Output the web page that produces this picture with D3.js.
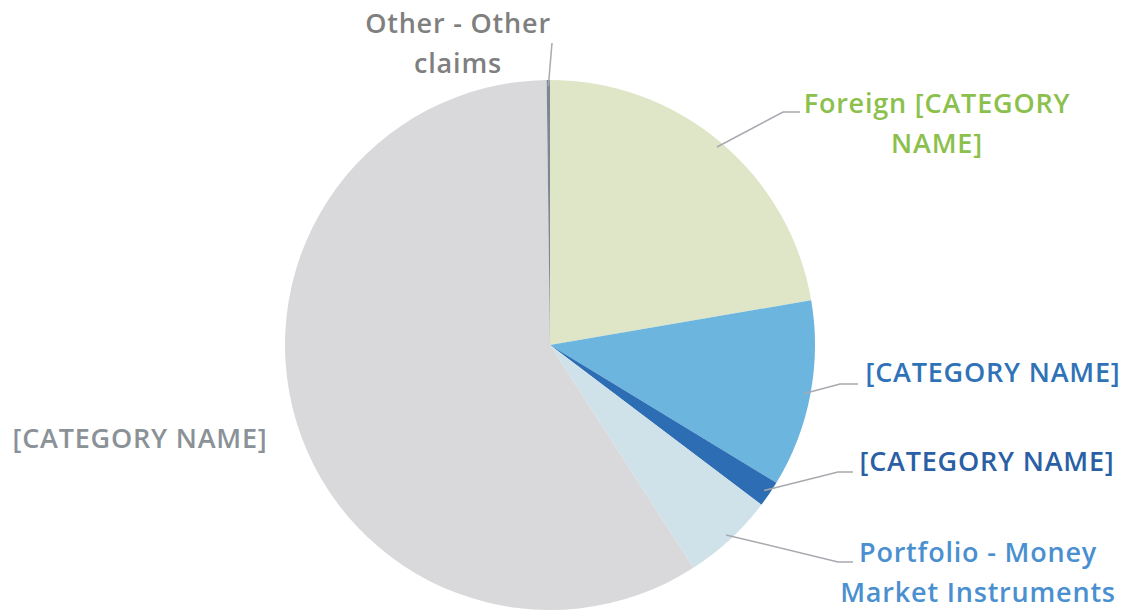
<!DOCTYPE html>
<html>
<head>
<script src="https://cdn.jsdelivr.net/npm/d3@7"></script>
<style>
  body { margin: 0; background: #fff; }
  text { font-family: "Open Sans", sans-serif; }
</style>
</head>
<body>
<script>
// slice data, clockwise from 12 o'clock
var categories = ["Foreign [CATEGORY NAME]", "[CATEGORY NAME]", "[CATEGORY NAME]",
                  "Portfolio - Money Market Instruments", "[CATEGORY NAME]", "Other - Other claims"];
var values = [22.3, 11.4, 1.6, 5.6, 58.9, 0.2];
var sliceColors = ["#dfe6c8", "#6cb5df", "#2d6db4", "#cfe2e9", "#d9d9dc", "#7d8792"];
var labelColors = ["#8cc04c", "#2f72b8", "#2a5fa5", "#4a90d0", "#8a9197", "#7f7f7f"];
var labelLines = [
  ["Foreign [CATEGORY", "NAME]"],
  ["[CATEGORY NAME]"],
  ["[CATEGORY NAME]"],
  ["Portfolio - Money", "Market Instruments"],
  ["[CATEGORY NAME]"],
  ["Other - Other", "claims"]
];

var width = 1132, height = 612;
var cx = 550, cy = 345, r = 265;

// label placement: centre x, first baseline y, leader elbow and end
var labelPos = [
  {x: 937, y: 113, elbow: [783, 112], end: [800, 112]},
  {x: 993, y: 382, elbow: [840, 384], end: [858, 384]},
  {x: 987, y: 471, elbow: [838, 472], end: [853, 472]},
  {x: 978, y: 562, elbow: [838, 562], end: [853, 562]},
  {x: 140, y: 448, elbow: null, end: null},
  {x: 458, y: 33, elbow: [552, 43], end: [552, 43]}
];

var svg = d3.select("body").append("svg")
  .attr("width", width)
  .attr("height", height);

var g = svg.append("g").attr("transform", "translate(" + cx + "," + cy + ")");

var pie = d3.pie().sort(null).value(function(d) { return d; });
var arcs = pie(values);
var arc = d3.arc().innerRadius(0).outerRadius(r);

g.selectAll("path")
  .data(arcs)
  .enter().append("path")
  .attr("d", arc)
  .attr("fill", function(d, i) { return sliceColors[i]; });

// leader lines
var outer = d3.arc().innerRadius(r - 6).outerRadius(r - 6);
arcs.forEach(function(d, i) {
  var p = labelPos[i];
  if (!p.elbow) return;
  var c = outer.centroid(d);
  var start = [cx + c[0], cy + c[1]];
  svg.append("polyline")
    .attr("points", [start, p.elbow, p.end].map(function(q) { return q.join(","); }).join(" "))
    .attr("fill", "none")
    .attr("stroke", "#a6a9ae")
    .attr("stroke-width", 1.5);
});

// labels
labelLines.forEach(function(lines, i) {
  var p = labelPos[i];
  var t = svg.append("text")
    .attr("text-anchor", "middle")
    .attr("font-size", 27)
    .attr("font-weight", 600)
    .attr("letter-spacing", 0.8)
    .attr("fill", labelColors[i]);
  lines.forEach(function(s, j) {
    t.append("tspan")
      .attr("x", p.x)
      .attr("y", p.y + j * 40)
      .text(s);
  });
});
</script>
</body>
</html>
